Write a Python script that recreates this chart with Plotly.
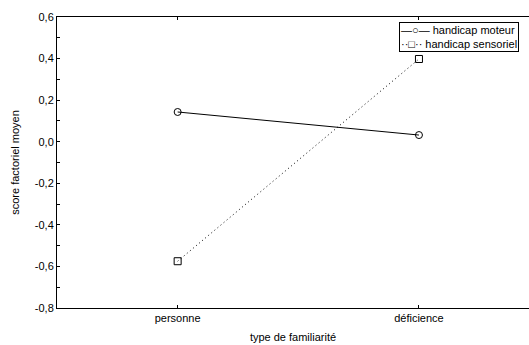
import plotly.graph_objects as go

categories = ["personne", "déficience"]
moteur = [0.143, 0.032]
sensoriel = [-0.575, 0.398]
series_names = ["handicap moteur", "handicap sensoriel"]
y_tickvals = [0.6, 0.4, 0.2, 0.0, -0.2, -0.4, -0.6, -0.8]
y_ticktext = ["0,6", "0,4", "0,2", "0,0", "-0,2", "-0,4", "-0,6", "-0,8"]

xpos = list(range(len(categories)))

fig = go.Figure()
fig.add_trace(go.Scatter(
    x=xpos, y=moteur, name=series_names[0], mode="lines+markers",
    line=dict(color="black", width=1),
    marker=dict(symbol="circle-open", size=7, color="black", line=dict(width=1)),
    showlegend=False,
))
fig.add_trace(go.Scatter(
    x=xpos, y=sensoriel, name=series_names[1], mode="lines+markers",
    line=dict(color="black", width=1, dash="1px,3px"),
    marker=dict(symbol="square-open", size=7, color="black", line=dict(width=1)),
    showlegend=False,
))

# compact legend box, kept inside the paper so it does not push the margins
legend_text = ("—○—\u00a0" + series_names[0] + "<br>··□··\u00a0" + series_names[1])
fig.add_annotation(
    xref="paper", yref="paper", x=0.724, y=0.983, xanchor="left", yanchor="top",
    text=legend_text, showarrow=False, align="left",
    font=dict(size=11, color="black"),
    bordercolor="black", borderwidth=1, borderpad=1, bgcolor="white",
)

font = "Liberation Sans, Arial, sans-serif"
fig.update_layout(
    width=529, height=345,
    margin=dict(l=57, r=0, t=17, b=37),
    paper_bgcolor="white", plot_bgcolor="white",
    font=dict(family=font, size=11, color="black"),
    showlegend=False,
    xaxis=dict(
        range=[-0.5, 1.456], tickvals=xpos, ticktext=categories,
        showline=True, linecolor="black", linewidth=1, mirror="ticks",
        ticks="inside", ticklen=3, tickcolor="black",
        showgrid=False, zeroline=False, automargin=False,
        title=dict(text="type de familiarité", font=dict(size=11), standoff=10),
    ),
    yaxis=dict(
        range=[-0.8, 0.6], tickvals=y_tickvals, ticktext=y_ticktext,
        showline=True, linecolor="black", linewidth=1, mirror=False,
        ticks="inside", ticklen=3, tickcolor="black",
        minor=dict(dtick=0.1, ticks="inside", ticklen=3, tickcolor="black"),
        showgrid=False, zeroline=False, automargin=False,
        title=dict(text="score factoriel moyen", font=dict(size=11), standoff=12),
    ),
)

fig.write_html(
    "out.html",
    config={"displayModeBar": False},
    post_script="document.body.style.margin='0';document.body.style.overflow='hidden';",
)
